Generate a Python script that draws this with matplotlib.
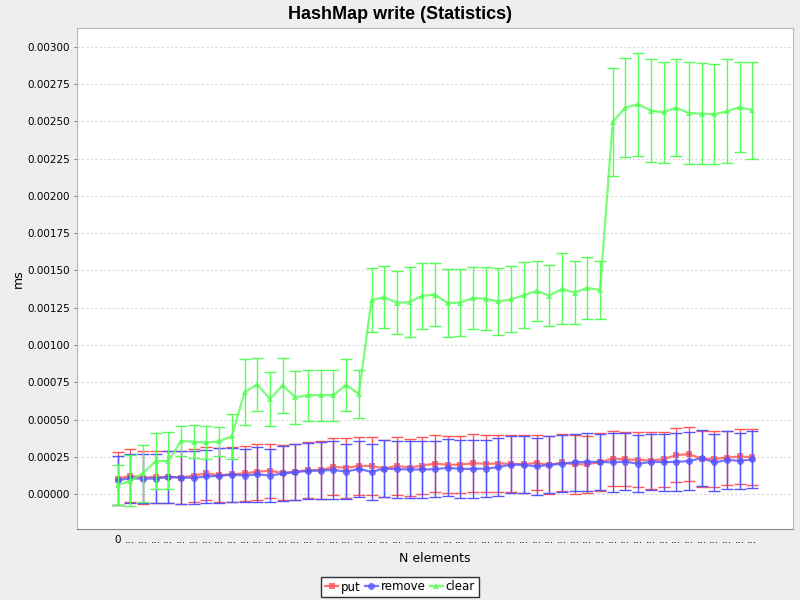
import numpy as np
import matplotlib
matplotlib.use("Agg")
import matplotlib.pyplot as plt
from matplotlib.ticker import FixedLocator

# category labels: first is "0", the rest were truncated to "..."
labels = ["0"] + ["..."] * 50

put_mean = [0.000105, 0.000123, 0.000112, 0.000116, 0.000116, 0.000112, 0.000125, 0.000139, 0.000128, 0.000134,
            0.000139, 0.000152, 0.000157, 0.000143, 0.000152, 0.000161, 0.000161, 0.000184, 0.000177, 0.000190,
            0.000190, 0.000172, 0.000190, 0.000179, 0.000192, 0.000206, 0.000197, 0.000199, 0.000208, 0.000204,
            0.000206, 0.000204, 0.000201, 0.000210, 0.000197, 0.000213, 0.000201, 0.000201, 0.000215, 0.000239,
            0.000233, 0.000230, 0.000226, 0.000235, 0.000262, 0.000269, 0.000239, 0.000237, 0.000246, 0.000253,
            0.000248]
put_sd = [0.000177, 0.000177, 0.000180, 0.000172, 0.000175, 0.000177, 0.000177, 0.000177, 0.000180, 0.000184,
          0.000183, 0.000188, 0.000183, 0.000184, 0.000188, 0.000186, 0.000193, 0.000190, 0.000199, 0.000193,
          0.000193, 0.000190, 0.000193, 0.000188, 0.000191, 0.000188, 0.000192, 0.000190, 0.000195, 0.000190,
          0.000188, 0.000190, 0.000193, 0.000184, 0.000195, 0.000190, 0.000197, 0.000192, 0.000195, 0.000182,
          0.000181, 0.000184, 0.000188, 0.000185, 0.000181, 0.000181, 0.000188, 0.000190, 0.000181, 0.000183,
          0.000188]

remove_mean = [0.000094, 0.000107, 0.000105, 0.000105, 0.000116, 0.000112, 0.000110, 0.000119, 0.000123, 0.000132,
               0.000125, 0.000134, 0.000125, 0.000139, 0.000148, 0.000157, 0.000159, 0.000163, 0.000152, 0.000170,
               0.000150, 0.000172, 0.000168, 0.000166, 0.000166, 0.000168, 0.000177, 0.000170, 0.000170, 0.000172,
               0.000181, 0.000199, 0.000197, 0.000186, 0.000197, 0.000204, 0.000215, 0.000217, 0.000217, 0.000213,
               0.000219, 0.000204, 0.000217, 0.000215, 0.000217, 0.000222, 0.000242, 0.000213, 0.000230, 0.000224,
               0.000233]
remove_sd = [0.000163, 0.000165, 0.000165, 0.000165, 0.000175, 0.000175, 0.000177, 0.000175, 0.000184, 0.000181,
             0.000179, 0.000184, 0.000177, 0.000181, 0.000188, 0.000186, 0.000188, 0.000193, 0.000184, 0.000190,
             0.000186, 0.000190, 0.000192, 0.000193, 0.000193, 0.000188, 0.000192, 0.000193, 0.000193, 0.000191,
             0.000195, 0.000190, 0.000192, 0.000190, 0.000192, 0.000191, 0.000190, 0.000192, 0.000190, 0.000195,
             0.000191, 0.000190, 0.000190, 0.000190, 0.000192, 0.000192, 0.000187, 0.000190, 0.000193, 0.000186,
             0.000190]

clear_mean = [0.000060, 0.000090, 0.000141, 0.000222, 0.000224, 0.000358, 0.000351, 0.000347, 0.000354, 0.000389,
              0.000684, 0.000736, 0.000638, 0.000729, 0.000649, 0.000664, 0.000664, 0.000664, 0.000733, 0.000673,
              0.001301, 0.001321, 0.001283, 0.001288, 0.001330, 0.001338, 0.001281, 0.001285, 0.001316, 0.001310,
              0.001292, 0.001307, 0.001334, 0.001363, 0.001332, 0.001376, 0.001352, 0.001383, 0.001369, 0.002496,
              0.002592, 0.002614, 0.002571, 0.002560, 0.002592, 0.002554, 0.002551, 0.002547, 0.002567, 0.002594,
              0.002574]
clear_sd = [0.000135, 0.000170, 0.000190, 0.000190, 0.000190, 0.000100, 0.000110, 0.000110, 0.000100, 0.000150,
            0.000220, 0.000175, 0.000180, 0.000185, 0.000177, 0.000170, 0.000170, 0.000170, 0.000173, 0.000160,
            0.000215, 0.000210, 0.000210, 0.000235, 0.000222, 0.000210, 0.000226, 0.000225, 0.000210, 0.000210,
            0.000222, 0.000220, 0.000220, 0.000200, 0.000206, 0.000238, 0.000208, 0.000210, 0.000196, 0.000360,
            0.000330, 0.000345, 0.000345, 0.000340, 0.000325, 0.000340, 0.000340, 0.000335, 0.000350, 0.000300,
            0.000325]

series = [
    ("put", put_mean, put_sd, "#FF5555", "s"),
    ("remove", remove_mean, remove_sd, "#5555FF", "o"),
    ("clear", clear_mean, clear_sd, "#55FF55", "^"),
]

fig = plt.figure(figsize=(8, 6), dpi=100, facecolor="#EEEEEE")
ax = fig.add_axes([77 / 800, 1 - 529 / 600, 716 / 800, 501 / 600])
ax.set_facecolor("white")

x = np.arange(len(labels))
for name, m, sd, col, mk in series:
    ax.errorbar(x, m, yerr=sd, fmt="none", ecolor=col, elinewidth=1.0, capsize=4, capthick=1.0)
    ax.plot(x, m, color=col, lw=1.6, alpha=0.8, marker=mk, markersize=5,
            markeredgewidth=0, label=name)

ax.set_xlim(-3.2, len(labels) - 1 + 3.2)
ax.set_ylim(-0.000233, 0.003125)
yt = np.arange(0, 0.0030001, 0.00025)
ax.yaxis.set_major_locator(FixedLocator(yt))
ax.set_yticklabels([f"{v:.5f}" for v in yt], fontsize=7.5)
ax.set_xticks(x)
ax.set_xticklabels(labels, fontsize=7.5)
ax.tick_params(axis="x", length=0, pad=4)
ax.tick_params(axis="y", length=2, color="#888888", pad=3)
ax.grid(axis="y", color="#D8D8D8", linestyle=(0, (2, 2)), lw=0.8)
ax.set_axisbelow(True)
for s in ["top", "right", "left"]:
    ax.spines[s].set_color("#B8B8B8")
ax.spines["bottom"].set_color("#888888")

ax.set_xlabel("N elements", fontsize=9, labelpad=5)
ax.set_ylabel("ms", fontsize=9, labelpad=2)
fig.suptitle("HashMap write (Statistics)", fontsize=13, fontweight="bold",
             family=["Liberation Sans", "DejaVu Sans"], y=0.99)

leg = fig.legend(loc="center", bbox_to_anchor=(0.5, 1 - 587 / 600), ncol=3, fontsize=8.5,
                 frameon=True, fancybox=False, handlelength=1.1, handletextpad=0.25,
                 columnspacing=0.35, borderpad=0.3, borderaxespad=0, markerscale=1.0)
leg.get_frame().set_edgecolor("black")
leg.get_frame().set_linewidth(1.0)

fig.savefig("out.png", dpi=100, facecolor=fig.get_facecolor())
